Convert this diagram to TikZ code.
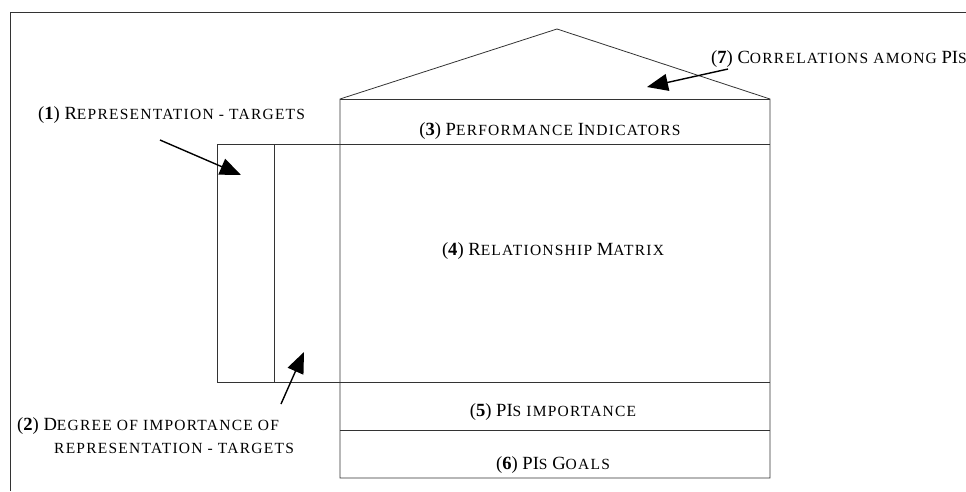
\documentclass[tikz,border=0pt]{standalone}
\usepackage{fontspec}
\setmainfont{Liberation Serif}
\usetikzlibrary{arrows.meta}
\newcommand{\smcap}[1]{{\fontsize{15.5}{17}\selectfont\addfontfeature{LetterSpace=8}\MakeUppercase{#1}}}
\tikzset{
	label/.style={font=\fontsize{18.6}{21}\selectfont, inner sep=0pt, anchor=base},
	pointer/.style={line width=1.4pt, -{Triangle[length=21pt,width=17pt]}},
	frame/.style={line width=0.8pt, draw=black!80}
}
\begin{document}
\begin{tikzpicture}[x=1pt, y=-1pt]
	\useasboundingbox (0,0) rectangle (966,491);
	% Rahmen
	\draw[frame] (10,491) -- (10,12) -- (966,12);
	% Haus
	\draw[frame] (340,478) -- (340,99) -- (557,29) -- (770,99) -- (770,478) -- cycle;
	\draw[frame] (340,99) -- (770,99);
	\draw[frame] (340,144) -- (770,144);
	\draw[frame] (217,382) -- (770,382);
	\draw[frame] (340,430) -- (770,430);
	% linke Spalten
	\draw[frame] (217,144) rectangle (274,382);
	\draw[frame] (274,144) -- (340,144);
	% Beschriftungen
	\node[label] (pind) at (550,135) {(\textbf{3}) P\smcap{erformance} I\smcap{ndicators}};
	\node[label] (rmat) at (553,255) {(\textbf{4}) R\smcap{elationship} M\smcap{atrix}};
	\node[label] (pimp) at (553,416) {(\textbf{5}) PI\smcap{s importance}};
	\node[label] (pgoal) at (553,469) {(\textbf{6}) PI\smcap{s} G\smcap{oals}};
	\node[label, anchor=base west] (reptg) at (38,119) {(\textbf{1}) R\smcap{epresentation - targets}};
	\node[label, anchor=base west] (corr) at (711,63) {(\textbf{7}) C\smcap{orrelations among} PI\smcap{s}};
	\node[label, anchor=base west] (degr) at (17,430) {(\textbf{2}) D\smcap{egree of importance of}};
	\node[label, anchor=base west] (degrb) at (54,453) {\smcap{representation - targets}};
	% Pfeile
	\coordinate (reptgS) at (160,140);
	\coordinate (reptgE) at (241,175);
	\coordinate (degrS) at (281,404);
	\coordinate (degrE) at (304,352);
	\coordinate (corrS) at (728,69);
	\coordinate (corrE) at (647,87);
	\draw[pointer] (reptgS) -- (reptgE);
	\draw[pointer] (degrS) -- (degrE);
	\draw[pointer] (corrS) -- (corrE);
\end{tikzpicture}
\end{document}
